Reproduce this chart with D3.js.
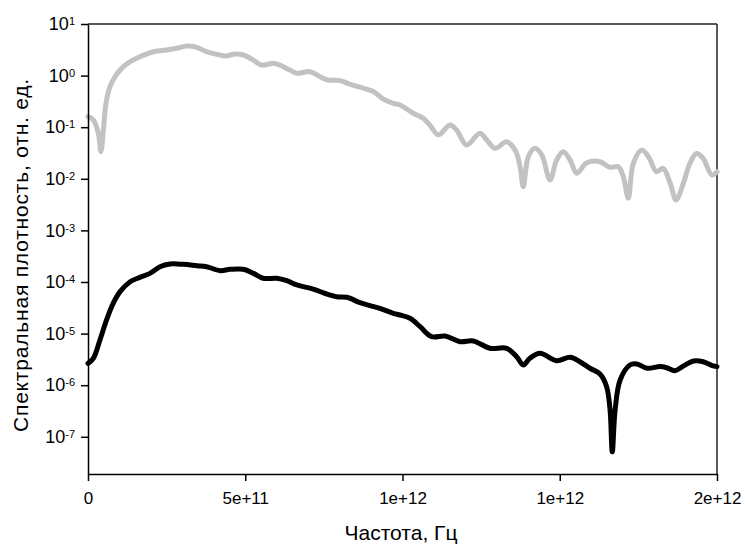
<!DOCTYPE html>
<html>
<head>
<meta charset="utf-8">
<script src="https://cdn.jsdelivr.net/npm/d3@7"></script>
<style>
  body { margin: 0; background: #fff; }
  svg { display: block; }
  text { font-family: "Liberation Sans", Arial, sans-serif; fill: #000; }
</style>
</head>
<body>
<svg id="chart" width="745" height="546"></svg>
<script>
// ---- data (frequency in Hz, spectral density in rel. units) ----
const grayFreq = [0, 0.017e12, 0.033e12, 0.041e12, 0.049e12, 0.057e12, 0.070e12, 0.086e12, 0.107e12, 0.134e12,
  0.165e12, 0.208e12, 0.250e12, 0.282e12, 0.314e12, 0.346e12, 0.377e12, 0.409e12, 0.441e12, 0.462e12,
  0.494e12, 0.526e12, 0.552e12, 0.589e12, 0.610e12, 0.642e12, 0.664e12, 0.706e12, 0.738e12, 0.764e12,
  0.801e12, 0.833e12, 0.875e12, 0.907e12, 0.939e12, 0.971e12, 0.992e12, 1.034e12, 1.066e12, 1.087e12,
  1.114e12, 1.151e12, 1.172e12, 1.204e12, 1.246e12, 1.268e12, 1.294e12, 1.331e12, 1.358e12, 1.374e12,
  1.384e12, 1.400e12, 1.421e12, 1.443e12, 1.469e12, 1.490e12, 1.511e12, 1.533e12, 1.554e12, 1.586e12,
  1.628e12, 1.660e12, 1.686e12, 1.702e12, 1.718e12, 1.734e12, 1.761e12, 1.782e12, 1.808e12, 1.829e12,
  1.851e12, 1.870e12, 1.893e12, 1.914e12, 1.935e12, 1.956e12, 1.983e12, 2.0e12];
const grayValues = [0.16, 0.138, 0.076, 0.0335, 0.088, 0.29, 0.61, 0.95, 1.38, 1.86,
  2.32, 2.90, 3.13, 3.38, 3.75, 3.53, 2.90, 2.59, 2.40, 2.59,
  2.51, 2.00, 1.60, 1.73, 1.60, 1.28, 1.11, 1.19, 0.95, 0.82,
  0.80, 0.68, 0.57, 0.49, 0.35, 0.29, 0.27, 0.186, 0.149, 0.110,
  0.071, 0.110, 0.088, 0.045, 0.076, 0.0565, 0.039, 0.052, 0.036, 0.0172,
  0.0070, 0.0268, 0.039, 0.0289, 0.0095, 0.0231, 0.0335, 0.0231, 0.0128, 0.0205,
  0.0214, 0.0167, 0.0172, 0.011, 0.0042, 0.020, 0.036, 0.0268, 0.0137, 0.016,
  0.0082, 0.0039, 0.0082, 0.020, 0.031, 0.025, 0.0119, 0.0137];

const blackFreq = [0, 0.017e12, 0.038e12, 0.059e12, 0.080e12, 0.102e12, 0.134e12, 0.165e12, 0.197e12, 0.229e12,
  0.261e12, 0.303e12, 0.346e12, 0.377e12, 0.420e12, 0.452e12, 0.494e12, 0.526e12, 0.557e12, 0.600e12,
  0.632e12, 0.664e12, 0.716e12, 0.759e12, 0.791e12, 0.823e12, 0.865e12, 0.897e12, 0.928e12, 0.971e12,
  0.992e12, 1.024e12, 1.056e12, 1.093e12, 1.135e12, 1.183e12, 1.225e12, 1.278e12, 1.331e12, 1.363e12,
  1.384e12, 1.405e12, 1.437e12, 1.490e12, 1.533e12, 1.564e12, 1.596e12, 1.628e12, 1.649e12, 1.660e12,
  1.667e12, 1.676e12, 1.692e12, 1.723e12, 1.745e12, 1.777e12, 1.819e12, 1.840e12, 1.866e12, 1.893e12,
  1.925e12, 1.956e12, 1.988e12, 2.0e12];
const blackValues = [2.65e-6, 3.32e-6, 7.5e-6, 1.84e-5, 3.86e-5, 6.5e-5, 1.01e-4, 1.23e-4, 1.47e-4, 1.98e-4,
  2.23e-4, 2.2e-4, 2.07e-4, 1.98e-4, 1.66e-4, 1.76e-4, 1.76e-4, 1.47e-4, 1.18e-4, 1.18e-4,
  1.06e-4, 8.75e-5, 7.3e-5, 5.85e-5, 5.19e-5, 5.05e-5, 3.97e-5, 3.48e-5, 3.09e-5, 2.47e-5,
  2.29e-5, 1.98e-5, 1.36e-5, 8.7e-6, 8.97e-6, 6.97e-6, 7.2e-6, 5.19e-6, 5.19e-6, 3.57e-6,
  2.46e-6, 3.32e-6, 4.15e-6, 2.99e-6, 3.47e-6, 2.85e-6, 2.13e-6, 1.65e-6, 9.35e-7, 3.3e-7,
  5.1e-8, 3.3e-7, 1.26e-6, 2.46e-6, 2.58e-6, 2.13e-6, 2.29e-6, 2.18e-6, 1.91e-6, 2.36e-6,
  2.94e-6, 2.85e-6, 2.36e-6, 2.29e-6];

const xTickValues = [0, 5e11, 1e12, 1.5e12, 2e12];
const xTickLabels = ["0", "5e+11", "1e+12", "1e+12", "2e+12"];
const yTickExponents = [1, 0, -1, -2, -3, -4, -5, -6, -7];
const xTitle = "Частота, Гц";
const yTitle = "Спектральная плотность, отн. ед.";

// ---- layout ----
const W = 745, H = 546;
const margin = { left: 88, right: 28, top: 24, bottom: 72 };
const svg = d3.select("#chart");

const x = d3.scaleLinear().domain([0, 2e12]).range([margin.left, W - margin.right]);
const y = d3.scaleLog().domain([1.9e-8, 10]).range([H - margin.bottom, margin.top]);

// frame (top and right)
svg.append("line").attr("x1", x(0)).attr("x2", x(2e12)).attr("y1", y(10)).attr("y2", y(10))
  .attr("stroke", "#222").attr("stroke-width", 1.5);
svg.append("line").attr("x1", x(2e12)).attr("x2", x(2e12)).attr("y1", y(10)).attr("y2", y(1.9e-8))
  .attr("stroke", "#222").attr("stroke-width", 1.5);

// lines
const line = d3.line().x(d => x(d[0])).y(d => y(d[1])).curve(d3.curveCatmullRom.alpha(0.5));
svg.append("path").datum(d3.zip(grayFreq, grayValues)).attr("d", line)
  .attr("fill", "none").attr("stroke", "#c2c2c2").attr("stroke-width", 5)
  .attr("stroke-linejoin", "round").attr("stroke-linecap", "round");
svg.append("path").datum(d3.zip(blackFreq, blackValues)).attr("d", line)
  .attr("fill", "none").attr("stroke", "#000").attr("stroke-width", 5)
  .attr("stroke-linejoin", "round").attr("stroke-linecap", "round");

// x axis
const xAxis = d3.axisBottom(x).tickValues(xTickValues)
  .tickFormat((d, i) => xTickLabels[i]).tickSize(7).tickSizeOuter(0).tickPadding(11);
const gx = svg.append("g").attr("transform", `translate(0,${H - margin.bottom})`).call(xAxis);
gx.select(".domain").attr("stroke", "#000").attr("stroke-width", 1.5);
gx.selectAll(".tick line").attr("stroke", "#000").attr("stroke-width", 1.5);
gx.selectAll(".tick text").style("font-size", "17px").attr("font-family", null);

// y axis
const yAxis = d3.axisLeft(y).tickValues(yTickExponents.map(e => Math.pow(10, e)))
  .tickFormat(() => "").tickSize(7).tickSizeOuter(0).tickPadding(6);
const gy = svg.append("g").attr("transform", `translate(${margin.left},0)`).call(yAxis);
gy.select(".domain").attr("stroke", "#000").attr("stroke-width", 1.5);
gy.selectAll(".tick line").attr("stroke", "#000").attr("stroke-width", 1.5);
gy.selectAll(".tick text").each(function(d, i) {
  const t = d3.select(this).style("font-size", "18px").attr("font-family", null);
  t.append("tspan").text("10");
  t.append("tspan").attr("dy", "-5").style("font-size", "11px").text(String(yTickExponents[i]));
});

// titles
svg.append("text").attr("x", 401).attr("y", 540).attr("text-anchor", "middle")
  .style("font-size", "21px").text(xTitle);
svg.append("text").attr("transform", "translate(28,255) rotate(-90)").attr("text-anchor", "middle")
  .style("font-size", "21px").style("letter-spacing", "0.8px").text(yTitle);
</script>
</body>
</html>
